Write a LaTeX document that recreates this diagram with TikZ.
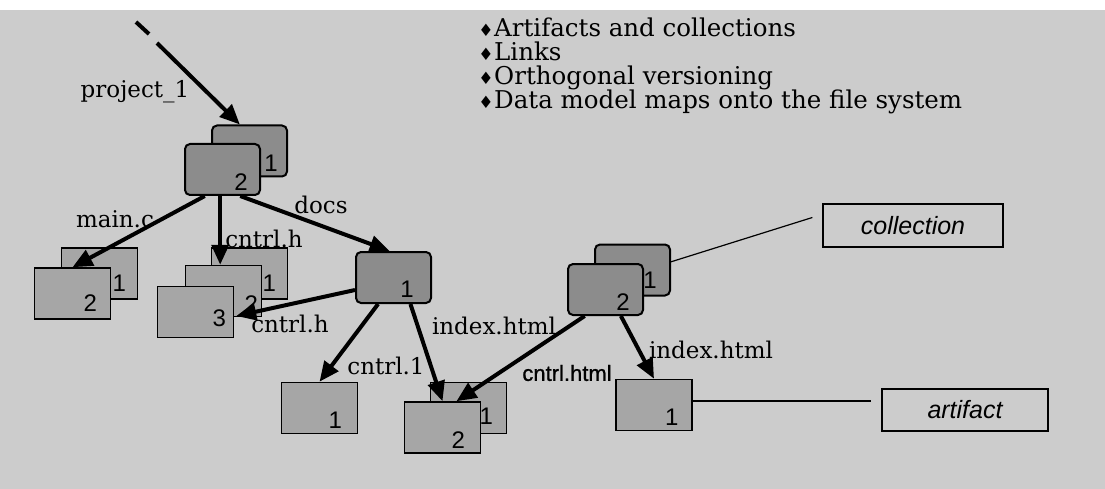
\documentclass[tikz,border=0pt]{standalone}
\usepackage{fontspec}
\setmainfont{DejaVu Serif}
\newfontfamily\sansf{Liberation Sans}
\newfontfamily\sansfb[FakeBold=1]{Liberation Sans}
\newfontfamily\symf{DejaVu Sans}
\usetikzlibrary{arrows.meta,calc}
\definecolor{bg}{gray}{0.80}
\definecolor{artfill}{gray}{0.65}
\definecolor{colfill}{gray}{0.55}
\begin{document}
\begin{tikzpicture}[x=1pt,y=-1pt,
  coll/.style={draw,line width=2pt,rounded corners=5pt,fill=colfill,minimum width=75pt,minimum height=51pt,inner sep=0pt},
  art/.style={draw,line width=1.5pt,fill=artfill,minimum width=76pt,minimum height=51pt,inner sep=0pt},
  num/.style={font=\sansf\fontsize{24}{24}\selectfont,inner sep=0pt,anchor=south east},
  lbl/.style={font=\fontsize{23}{23}\selectfont,inner sep=0pt},
  bul/.style={font=\fontsize{24.5}{24.5}\selectfont,inner sep=0pt,anchor=base west},
  dia/.style={font=\symf\fontsize{17}{17}\selectfont,inner sep=0pt,anchor=base},
  edge/.style={line width=4pt,-{Triangle[length=20pt,width=17pt]}},
  plain/.style={line width=4pt},
  thinln/.style={line width=1.2pt},
  keybox/.style={draw,line width=1.3pt,fill=bg,inner sep=0pt,font=\sansf\itshape\fontsize{25}{25}\selectfont}]
\useasboundingbox (0,0) rectangle (1105,489);
\fill[white] (0,0) rectangle (1105,489);
\fill[bg] (0,10) rectangle (1105,489);

% bullet list
\node[dia] (k1) at (486,37) {♦};
\node[bul] (b1) at (494,37) {Artifacts and collections};
\node[dia] (k2) at (486,61) {♦};
\node[bul] (b2) at (494,61) {Links};
\node[dia] (k3) at (486,85) {♦};
\node[bul] (b3) at (494,85) {Orthogonal versioning};
\node[dia] (k4) at (486,109) {♦};
\node[bul] (b4) at (494,109) {Data model maps onto the file system};

% project collection
\node[coll] (P1) at (249.5,151) {};
\node[num] (nP1) at ($(P1.south east)+(-10,-6)$) {1};
\node[coll] (P2) at (222.5,169.5) {};
\node[num] (nP2) at ($(P2.south east)+(-13,-5)$) {2};

% main.c
\node[art] (M1) at (99.5,273.5) {};
\node[num] (nM1) at ($(M1.south east)+(-12,-8)$) {1};
\node[art] (M2) at (72.5,293.5) {};
\node[num] (nM2) at ($(M2.south east)+(-14,-8)$) {2};

% cntrl.h
\node[art] (C1) at (249.5,273.5) {};
\node[num] (nC1) at ($(C1.south east)+(-12,-8)$) {1};
\node[art] (C2) at (223.5,291) {};
\node[num] (nC2) at ($(C2.south east)+(-4,-5)$) {2};
\node[art] (C3) at (195.5,312) {};
\node[num] (nC3) at ($(C3.south east)+(-8,-11)$) {3};

% docs
\node[coll] (D) at (393.5,277.5) {};
\node[num] (nD) at ($(D.south east)+(-18,-6)$) {1};

% cntrl.1
\node[art] (A1) at (319.5,408) {};
\node[num] (nA1) at ($(A1.south east)+(-16,-6)$) {1};

% index.html
\node[art] (I1) at (468.5,408) {};
\node[num] (nI1) at ($(I1.south east)+(-14,-10)$) {1};
\node[art] (I2) at (442.5,427.5) {};
\node[num] (nI2) at ($(I2.south east)+(-16,-5)$) {2};

% right collection
\node[coll] (R1) at (632.5,270) {};
\node[num] (nR1) at ($(R1.south east)+(-14,-8)$) {1};
\node[coll] (R2) at (605.5,289.5) {};
\node[num] (nR2) at ($(R2.south east)+(-14,-5)$) {2};

% right artifact
\node[art] (A2) at (654,405) {};
\node[num] (nA2) at ($(A2.south east)+(-14,-6)$) {1};

% key boxes
\node[keybox,minimum width=180pt,minimum height=43pt] (L1) at (913,225.5) {collection};
\node[keybox,minimum width=166pt,minimum height=42pt] (L2) at (965,410) {artifact};

% incoming arrow to project
\coordinate (s0) at (136,22);
\coordinate (s1) at (149,34);
\coordinate (s2) at (157,43);
\draw[plain] (s0) -- (s1);
\draw[edge] (s2) -- (P1.110);

% anchor points for edges
\coordinate (pm) at ($(P2.south west)!0.27!(P2.south east)$);
\coordinate (pc) at ($(P2.south west)!0.47!(P2.south east)$);
\coordinate (pd) at ($(P2.south west)!0.73!(P2.south east)$);
\coordinate (dn) at ($(D.north west)!0.45!(D.north east)$);
\coordinate (da) at ($(D.south west)!0.3!(D.south east)$);
\coordinate (di) at ($(D.south west)!0.72!(D.south east)$);
\coordinate (i2a) at ($(I2.north west)!0.5!(I2.north east)$);
\coordinate (i2b) at ($(I2.north west)!0.68!(I2.north east)$);
\coordinate (ri) at ($(R2.south west)!0.23!(R2.south east)$);
\coordinate (ra) at ($(R2.south west)!0.7!(R2.south east)$);
\coordinate (c3e) at ($(C3.east)+(2,4)$);
\coordinate (l1e) at ($(L1.west)+(-10,-8)$);
\coordinate (a2e) at ($(A2.east)+(0,-4)$);
\coordinate (l2e) at ($(L2.west)+(-10,-9)$);

% edges
\draw[edge] (pm) -- (M2.north);
\draw[edge] (pc) -- (pc |- C2.north);
\draw[edge] (pd) -- (dn);
\draw[edge] (D.198) -- (c3e);
\draw[edge] (da) -- (A1.north);
\draw[edge] (di) -- (i2a);
\draw[edge] (ri) -- (i2b);
\draw[edge] (ra) -- (A2.north);

% key lines
\draw[thinln] (R1.12) -- (l1e);
\draw[thinln] (a2e) -- (l2e);

% labels
\node[lbl] (lp) at (135,92) {project\_1};
\node[lbl] (lm) at (115,219) {main.c};
\node[lbl] (lc) at (264,239) {cntrl.h};
\node[lbl] (ld) at (321,205) {docs};
\node[lbl] (lc2) at (290,324) {cntrl.h};
\node[lbl] (lc1) at (386,366) {cntrl.1};
\node[lbl] (li) at (494,326) {index.html};
\node[font=\sansfb\fontsize{22}{22}\selectfont,inner sep=0pt] (lch) at (567,373) {cntrl.html};
\node[lbl] (li2) at (711,350) {index.html};
\end{tikzpicture}
\end{document}
